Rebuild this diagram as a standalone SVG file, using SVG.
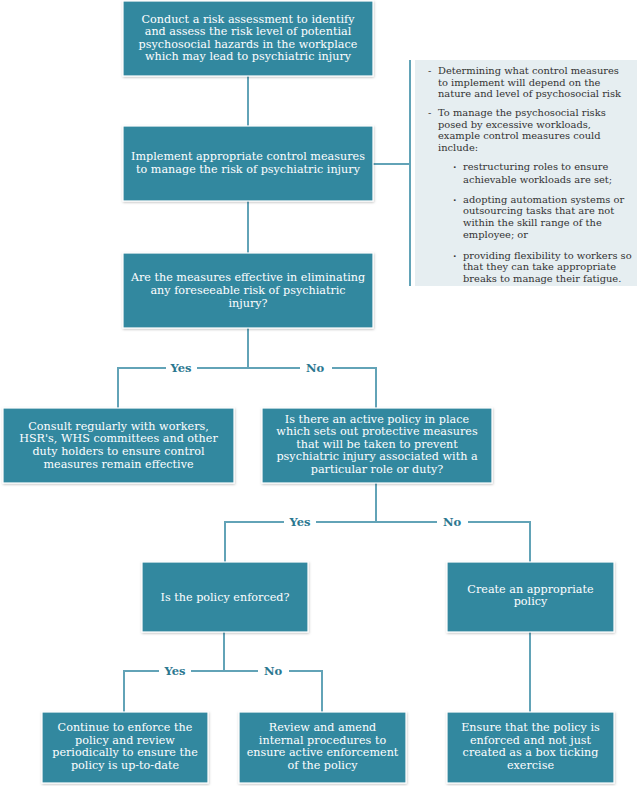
<svg xmlns="http://www.w3.org/2000/svg" width="638" height="786" viewBox="0 0 638 786">
<defs>
<filter id="sh" x="-5%" y="-5%" width="110%" height="115%">
<feDropShadow dx="0.5" dy="1" stdDeviation="1" flood-color="#000" flood-opacity="0.25"/>
</filter>
</defs>
<style>
.box{fill:#33889f;stroke:#ffffff;stroke-width:1.2;filter:url(#sh)}
.t{font-family:"DejaVu Serif","Liberation Serif",serif;font-size:11.2px;fill:#ffffff;text-anchor:middle}
.c{stroke:#62a3b7;stroke-width:2;fill:none}
.lbl{font-family:"DejaVu Serif","Liberation Serif",serif;font-size:11.5px;font-weight:bold;fill:#2b7790;text-anchor:middle}
.n{font-family:"DejaVu Serif","Liberation Serif",serif;font-size:9.9px;fill:#333333}
.b{font-family:"DejaVu Serif","Liberation Serif",serif;font-size:9.9px;font-weight:bold;fill:#333333}
</style>
<rect width="638" height="786" fill="#ffffff"/>

<g id="connectors">
<path class="c" d="M248,76 V126"/>
<path class="c" d="M248,201 V253"/>
<path class="c" d="M373,164 H410"/>
<path class="c" d="M410,60 V286"/>
<path class="c" d="M248,328 V368"/>
<path class="c" d="M118,408 V368 H166 M197,368 H300 M332,368 H376 V408"/>
<path class="c" d="M376,483 V522"/>
<path class="c" d="M225,562 V522 H284 M316,522 H437 M468,522 H530 V562"/>
<path class="c" d="M224,632 V671"/>
<path class="c" d="M124,712 V671 H159 M191,671 H258 M289,671 H322 V712"/>
<path class="c" d="M530,632 V712"/>
<text class="lbl" x="181" y="372">Yes</text>
<text class="lbl" x="315" y="372">No</text>
<text class="lbl" x="300" y="526">Yes</text>
<text class="lbl" x="452" y="526">No</text>
<text class="lbl" x="175" y="675">Yes</text>
<text class="lbl" x="273" y="674.5">No</text>
</g>

<g id="note">
<rect x="415" y="60" width="222" height="226" fill="#e6eef1"/>
<text class="n" x="428" y="74">-</text>
<text class="n" x="438" y="74">Determining what control measures</text>
<text class="n" x="438" y="85.5">to implement will depend on the</text>
<text class="n" x="438" y="97">nature and level of psychosocial risk</text>
<text class="n" x="428" y="116">-</text>
<text class="n" x="438" y="116">To manage the psychosocial risks</text>
<text class="n" x="438" y="127.5">posed by excessive workloads,</text>
<text class="n" x="438" y="139">example control measures could</text>
<text class="n" x="438" y="151">include:</text>
<text class="b" x="453" y="170">·</text>
<text class="n" x="463" y="170">restructuring roles to ensure</text>
<text class="n" x="463" y="182.5">achievable workloads are set;</text>
<text class="b" x="453" y="202.5">·</text>
<text class="n" x="463" y="202.5">adopting automation systems or</text>
<text class="n" x="463" y="214">outsourcing tasks that are not</text>
<text class="n" x="463" y="226">within the skill range of the</text>
<text class="n" x="463" y="238">employee; or</text>
<text class="b" x="453" y="258.5">·</text>
<text class="n" x="463" y="258.5">providing flexibility to workers so</text>
<text class="n" x="463" y="270">that they can take appropriate</text>
<text class="n" x="463" y="282">breaks to manage their fatigue.</text>
</g>

<g id="n1">
<rect class="box" x="123" y="1" width="250" height="75"/>
<text class="t" x="248" y="22.5">Conduct a risk assessment to identify</text>
<text class="t" x="248" y="35">and assess the risk level of potential</text>
<text class="t" x="248" y="47.5">psychosocial hazards in the workplace</text>
<text class="t" x="248" y="60">which may lead to psychiatric injury</text>
</g>

<g id="n2">
<rect class="box" x="123" y="126" width="250" height="75"/>
<text class="t" x="248" y="159.5">Implement appropriate control measures</text>
<text class="t" x="248" y="172.5">to manage the risk of psychiatric injury</text>
</g>

<g id="n3">
<rect class="box" x="123" y="253" width="250" height="75"/>
<text class="t" x="248" y="281">Are the measures effective in eliminating</text>
<text class="t" x="248" y="294">any foreseeable risk of psychiatric</text>
<text class="t" x="248" y="307">injury?</text>
</g>

<g id="n4">
<rect class="box" x="3" y="408" width="231" height="75"/>
<text class="t" x="118.5" y="429.5">Consult regularly with workers,</text>
<text class="t" x="118.5" y="442">HSR's, WHS committees and other</text>
<text class="t" x="118.5" y="454.5">duty holders to ensure control</text>
<text class="t" x="118.5" y="467.5">measures remain effective</text>
</g>

<g id="n5">
<rect class="box" x="262" y="408" width="230" height="75"/>
<text class="t" x="377" y="422.5">Is there an active policy in place</text>
<text class="t" x="377" y="435">which sets out protective measures</text>
<text class="t" x="377" y="447.5">that will be taken to prevent</text>
<text class="t" x="377" y="460">psychiatric injury associated with a</text>
<text class="t" x="377" y="472.5">particular role or duty?</text>
</g>

<g id="n6">
<rect class="box" x="142" y="562" width="166" height="70"/>
<text class="t" x="225" y="600.5">Is the policy enforced?</text>
</g>

<g id="n7">
<rect class="box" x="447" y="562" width="167" height="70"/>
<text class="t" x="530.5" y="592.5">Create an appropriate</text>
<text class="t" x="530.5" y="605">policy</text>
</g>

<g id="n8">
<rect class="box" x="42" y="712" width="166" height="71"/>
<text class="t" x="125" y="731">Continue to enforce the</text>
<text class="t" x="125" y="743.5">policy and review</text>
<text class="t" x="125" y="756">periodically to ensure the</text>
<text class="t" x="125" y="769">policy is up-to-date</text>
</g>

<g id="n9">
<rect class="box" x="239" y="712" width="167" height="71"/>
<text class="t" x="322.5" y="731">Review and amend</text>
<text class="t" x="322.5" y="743.5">internal procedures to</text>
<text class="t" x="322.5" y="756">ensure active enforcement</text>
<text class="t" x="322.5" y="769">of the policy</text>
</g>

<g id="n10">
<rect class="box" x="447" y="712" width="167" height="71"/>
<text class="t" x="530.5" y="731">Ensure that the policy is</text>
<text class="t" x="530.5" y="743.5">enforced and not just</text>
<text class="t" x="530.5" y="756">created as a box ticking</text>
<text class="t" x="530.5" y="769">exercise</text>
</g>
</svg>
